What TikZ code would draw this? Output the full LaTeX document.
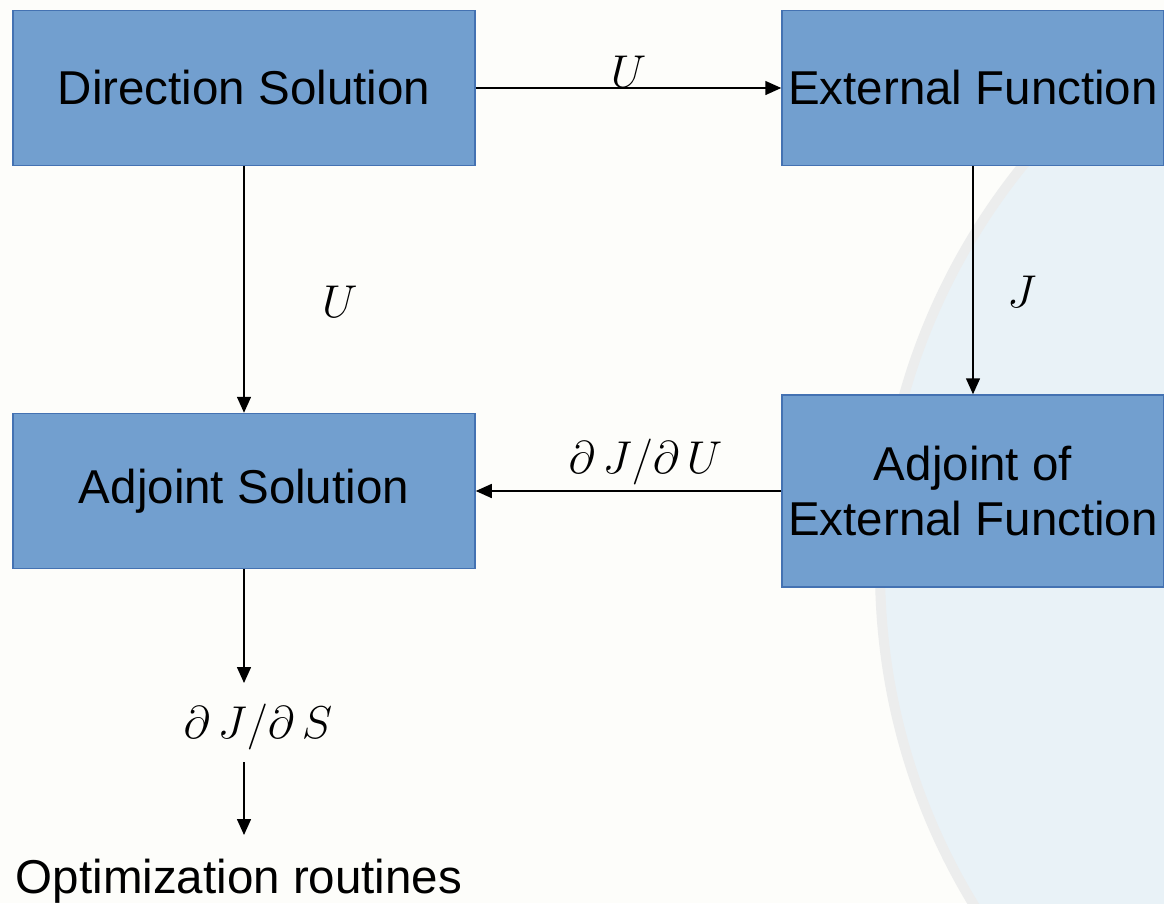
\RequirePackage{fix-cm}
\documentclass[tikz,border=0pt]{standalone}
\usepackage{fontspec}
\setmainfont{Liberation Sans}
\usetikzlibrary{arrows.meta}
\definecolor{boxblue}{RGB}{114,159,207}
\definecolor{boxline}{RGB}{68,114,178}
\definecolor{paper}{RGB}{253,253,250}
\definecolor{wmblue}{RGB}{233,242,247}
\definecolor{wmedge}{RGB}{236,237,237}
\tikzset{
  block/.style={draw=boxline, line width=1.5pt, fill=boxblue, inner sep=0pt,
    align=center, font=\fontsize{47.5}{55}\selectfont},
  flow/.style={-{Triangle[length=16pt,width=14pt]}, line width=1.5pt},
  lbl/.style={font=\fontsize{46}{50}\selectfont}
}
\begin{document}
\begin{tikzpicture}[x=1pt,y=-1pt]
\useasboundingbox (0,0) rectangle (1164,903);
% background and watermark
\begin{scope}
\clip (0,0) rectangle (1164,903);
\fill[paper] (0,0) rectangle (1164,903);
\draw[wmedge, line width=10pt, fill=wmblue] (1524,570) circle (644pt);
\end{scope}
% boxes
\node[block, minimum width=462pt, minimum height=155pt] (dirsol) at (244,88) {Direction Solution};
\node[block, minimum width=382pt, minimum height=155pt] (extfun) at (973,88) {External Function};
\node[block, minimum width=462pt, minimum height=155pt] (adjsol) at (244,491) {Adjoint Solution};
\node[block, minimum width=382pt, minimum height=192pt] (adjext) at (973,491) {Adjoint of\\External Function};
\node[font=\fontsize{47.5}{55}\selectfont, anchor=base] (optim) at (239,893) {Optimization routines};
% labels
\node[lbl] (dJdS) at (258,727) {$\partial\,J/\partial\,S$};
\coordinate (s1) at (244,683);
\coordinate (s2) at (244,762);
\coordinate (s3) at (244,835);
% arrows
\draw[flow] (dirsol) -- (extfun) node[lbl, midway, above=-4pt] {$U$};
\draw[flow] (dirsol) -- (adjsol) node[lbl, pos=0.55, right=74pt] {$U$};
\draw[flow] (extfun) -- (adjext) node[lbl, pos=0.55, right=30pt] {$J$};
\draw[flow] (adjext) -- (adjsol) node[lbl, midway, above=2pt, xshift=17pt] {$\partial\,J/\partial\,U$};
\draw[flow] (adjsol) -- (s1);
\draw[flow] (s2) -- (s3);
\end{tikzpicture}
\end{document}
